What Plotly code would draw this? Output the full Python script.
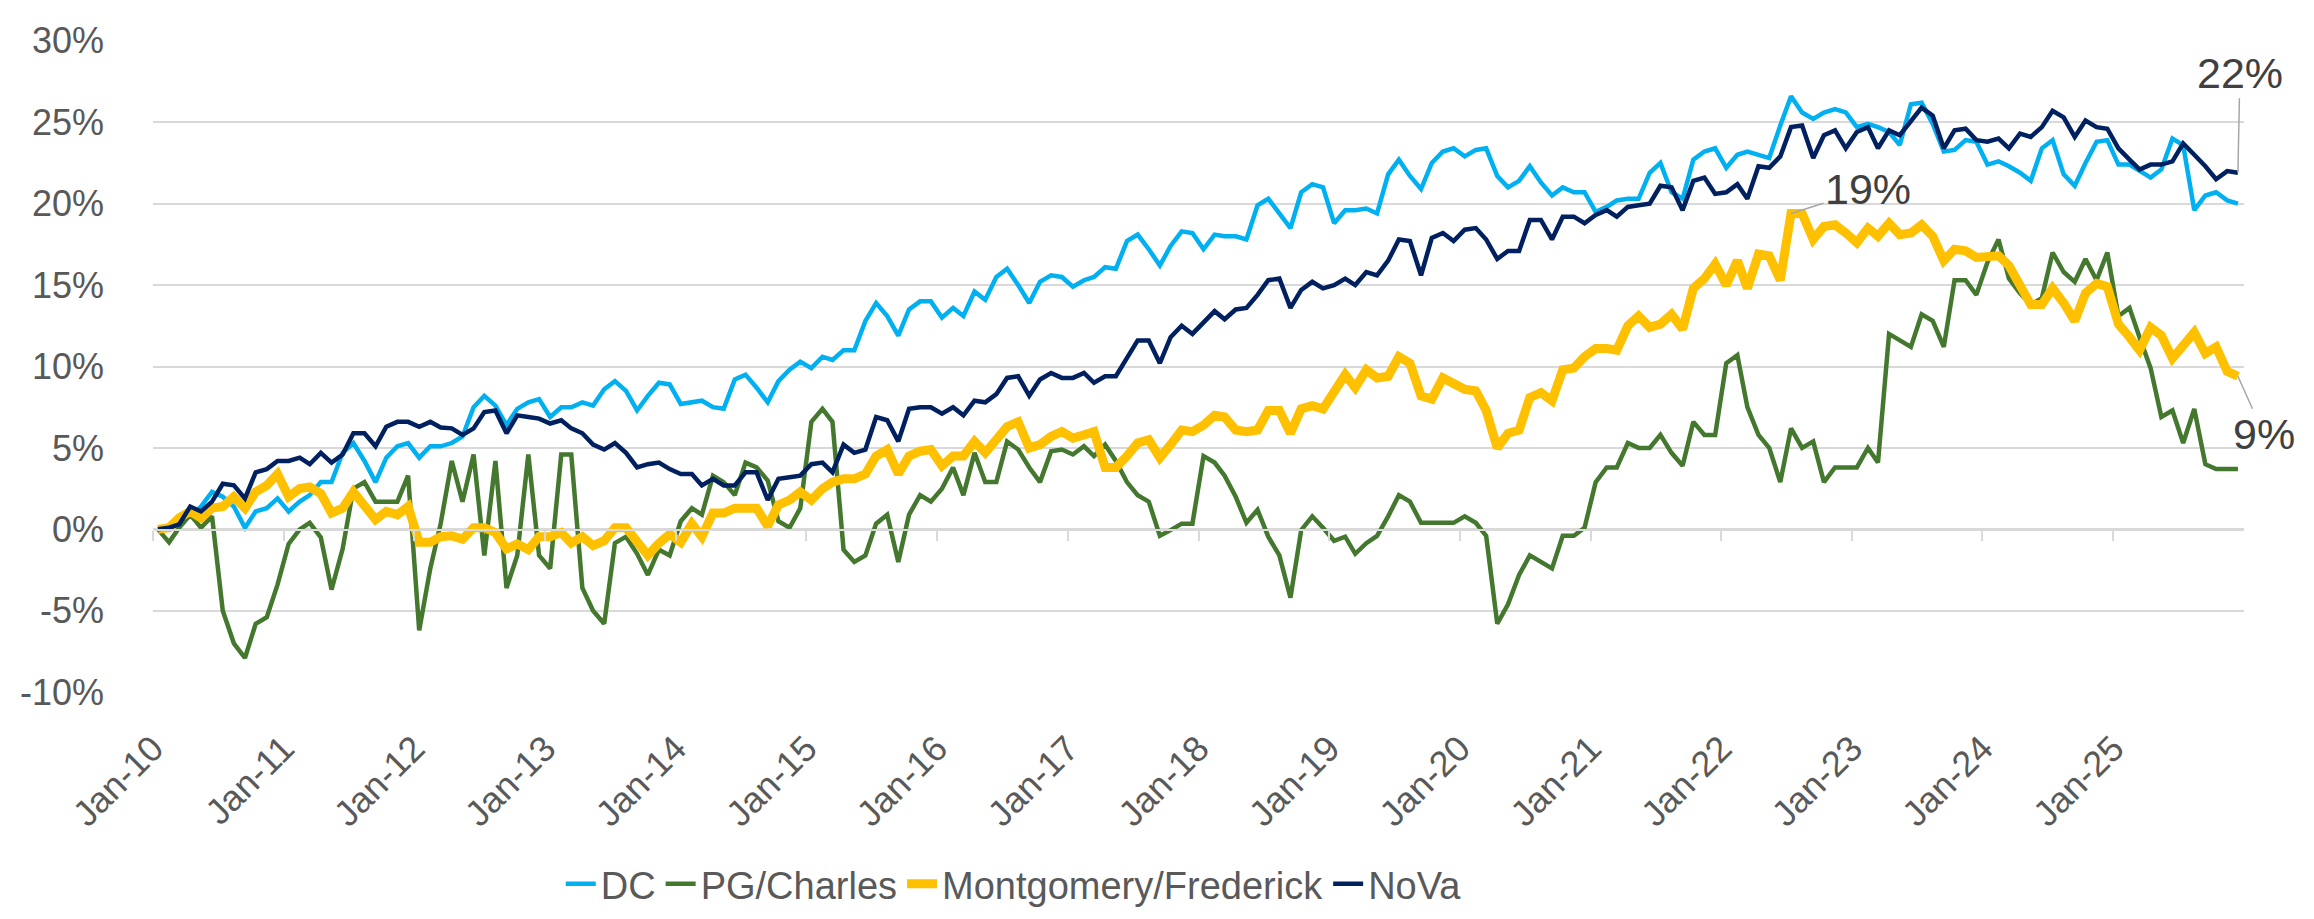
import plotly.graph_objects as go

# ---------------- data (monthly, Jan-2010 .. Dec-2025, % change) ----------------
years = list(range(2010, 2026))
x_tick_labels = [f"Jan-{str(y)[2:]}" for y in years]
y_tick_values = [-10, -5, 0, 5, 10, 15, 20, 25, 30]
y_tick_labels = ["-10%", "-5%", "0%", "5%", "10%", "15%", "20%", "25%", "30%"]

dc = [
    0, 0.1, 0.5, 0.8, 1.4, 2.3, 2.0, 1.4, 0.1, 1.1, 1.3, 1.9, 1.1, 1.7, 2.1, 2.9, 2.9, 4.7, 5.3, 4.2, 2.9, 4.4, 5.1, 5.3, 4.4, 5.1,
    5.1, 5.3, 5.7, 7.5, 8.2, 7.6, 6.4, 7.4, 7.8, 8.0, 6.9, 7.5, 7.5, 7.8, 7.6, 8.6, 9.1, 8.5, 7.3, 8.2, 9.0, 8.9, 7.7, 7.8, 7.9, 7.5, 7.4,
    9.2, 9.5, 8.7, 7.8, 9.1, 9.8, 10.3, 9.9, 10.6, 10.4, 11.0, 11.0, 12.8, 13.9, 13.1, 11.9, 13.5, 14.0, 14.0, 13.0, 13.6, 13.1, 14.6, 14.1, 15.5, 16.0, 15.0,
    13.9, 15.2, 15.6, 15.5, 14.9, 15.3, 15.5, 16.1, 16.0, 17.7, 18.1, 17.2, 16.2, 17.4, 18.3, 18.2, 17.2, 18.1, 18.0, 18.0, 17.8, 19.9, 20.3, 19.4, 18.5, 20.7, 21.2,
    21.0, 18.8, 19.6, 19.6, 19.7, 19.4, 21.8, 22.7, 21.7, 20.9, 22.5, 23.2, 23.4, 22.9, 23.3, 23.4, 21.7, 21.0, 21.4, 22.3, 21.3, 20.5, 21.0, 20.7, 20.7, 19.5,
    19.8, 20.2, 20.3, 20.3, 21.9, 22.5, 20.7, 20.3, 22.7, 23.2, 23.4, 22.2, 23.0, 23.2, 23.0, 22.8, 24.8, 26.6, 25.6, 25.2, 25.6, 25.8, 25.6, 24.7, 24.9, 24.7, 24.4,
    23.6, 26.1, 26.2, 24.9, 23.2, 23.3, 23.9, 23.8, 22.4, 22.6, 22.3, 21.9, 21.4, 23.4, 23.9, 21.8,
    21.1, 22.5, 23.8, 23.9, 22.4, 22.4, 22.0, 21.6, 22.1, 24.0, 23.6, 19.6, 20.5, 20.7, 20.2, 20.0,
]

pg_charles = [
    0, -0.8, 0.1, 0.9, 0.1, 0.8, -5.0, -7.0, -7.9, -5.8, -5.4, -3.4, -0.9, 0.0, 0.4, -0.5, -3.7, -1.2, 2.5, 2.9, 1.7, 1.7, 1.7, 3.3, -6.2, -2.4,
    0.35, 4.2, 1.7, 4.6, -1.6, 4.2, -3.6, -1.6, 4.6, -1.6, -2.4, 4.6, 4.6, -3.6, -5.0, -5.8, -0.85, -0.45, -1.5, -2.8, -1.25, -1.6, 0.5, 1.3, 0.9, 3.3, 2.9,
    2.1, 4.1, 3.8, 3.0, 0.5, 0.1, 1.3, 6.6, 7.4, 6.6, -1.25, -2.0, -1.6, 0.35, 0.9, -2.0, 0.9, 2.1, 1.7, 2.5, 3.8, 2.1, 4.7, 2.9, 2.9, 5.4, 4.9,
    3.8, 2.9, 4.8, 4.9, 4.6, 5.1, 4.5, 5.2, 4.2, 2.9, 2.1, 1.7, -0.4, -0.05, 0.35, 0.35, 4.5, 4.1, 3.3, 2.0, 0.4, 1.2, -0.45, -1.6, -4.2, -0.05, 0.8,
    0.1, -0.7, -0.45, -1.5, -0.85, -0.4, 0.8, 2.1, 1.7, 0.4, 0.4, 0.4, 0.4, 0.8, 0.4, -0.4, -5.8, -4.6, -2.8, -1.6, -2.0, -2.4, -0.4, -0.4, 0.1, 2.9,
    3.8, 3.8, 5.3, 5.0, 5.0, 5.8, 4.7, 3.9, 6.6, 5.8, 5.8, 10.2, 10.7, 7.5, 5.8, 5.0, 2.9, 6.2, 5.0, 5.4, 2.9, 3.8, 3.8, 3.8, 5.0, 4.1, 12.0,
    11.6, 11.2, 13.2, 12.8, 11.2, 15.3, 15.3, 14.4, 16.4, 17.8, 15.4, 14.5, 13.8, 14.2, 17.0, 15.8,
    15.2, 16.6, 15.3, 17.0, 13.1, 13.6, 11.8, 9.9, 6.9, 7.3, 5.3, 7.4, 4.0, 3.7, 3.7, 3.7,
]

montgomery = [
    0, 0.1, 0.7, 1.1, 0.7, 1.3, 1.4, 2.0, 1.3, 2.3, 2.7, 3.4, 2.0, 2.5, 2.6, 2.2, 1.0, 1.3, 2.3, 1.5, 0.6, 1.1, 0.9, 1.4, -0.8, -0.8,
    -0.45, -0.4, -0.6, 0.1, 0.1, -0.2, -1.2, -0.9, -1.25, -0.45, -0.45, -0.2, -0.85, -0.45, -1.0, -0.7, 0.1, 0.1, -0.85, -1.6, -0.85, -0.3, -0.8, 0.35, -0.45, 1.0, 1.0,
    1.3, 1.3, 1.3, 0.2, 1.5, 1.8, 2.3, 1.8, 2.5, 2.9, 3.1, 3.1, 3.4, 4.5, 4.9, 3.4, 4.5, 4.8, 4.9, 3.9, 4.5, 4.5, 5.4, 4.7, 5.5, 6.3, 6.6,
    5.0, 5.2, 5.7, 6.0, 5.6, 5.8, 6.0, 3.8, 3.8, 4.5, 5.3, 5.5, 4.4, 5.2, 6.1, 6.0, 6.4, 7.0, 6.9, 6.1, 6.0, 6.1, 7.3, 7.3, 5.9, 7.4, 7.6,
    7.4, 8.5, 9.5, 8.7, 9.8, 9.3, 9.4, 10.6, 10.2, 8.2, 8.0, 9.3, 9.0, 8.6, 8.5, 7.3, 5.0, 5.9, 6.1, 8.1, 8.4, 7.9, 9.8, 9.9, 10.6, 11.1,
    11.1, 11.0, 12.5, 13.1, 12.4, 12.6, 13.2, 12.3, 14.8, 15.4, 16.3, 15.0, 16.5, 14.8, 16.9, 16.8, 15.3, 19.4, 19.4, 17.8, 18.6, 18.7, 18.2, 17.6, 18.5, 18.0, 18.8,
    18.1, 18.2, 18.7, 18.0, 16.5, 17.2, 17.1, 16.7, 16.8, 16.8, 16.2, 15.0, 13.8, 13.8, 14.8, 13.9,
    12.8, 14.5, 15.1, 14.9, 12.6, 11.8, 11.0, 12.4, 11.9, 10.5, 11.2, 12.1, 10.8, 11.2, 9.7, 9.4,
]

nova = [
    0, 0.1, 0.3, 1.4, 1.1, 1.7, 2.8, 2.7, 1.9, 3.5, 3.7, 4.2, 4.2, 4.4, 4.0, 4.7, 4.1, 4.6, 5.9, 5.9, 5.1, 6.3, 6.6, 6.6, 6.3, 6.6,
    6.25, 6.2, 5.8, 6.2, 7.2, 7.3, 5.9, 7.0, 6.9, 6.8, 6.5, 6.7, 6.2, 5.9, 5.2, 4.9, 5.3, 4.7, 3.8, 4.0, 4.1, 3.7, 3.4, 3.4, 2.7, 3.1, 2.7,
    2.7, 3.5, 3.5, 1.8, 3.1, 3.2, 3.3, 4.0, 4.1, 3.5, 5.2, 4.7, 4.9, 6.9, 6.7, 5.4, 7.4, 7.5, 7.5, 7.1, 7.5, 7.0, 7.9, 7.8, 8.3, 9.3, 9.4,
    8.2, 9.2, 9.6, 9.3, 9.3, 9.6, 9.0, 9.4, 9.4, 10.5, 11.6, 11.6, 10.2, 11.8, 12.5, 12.0, 12.7, 13.4, 12.9, 13.5, 13.6, 14.4, 15.3, 15.4, 13.6, 14.7, 15.2,
    14.8, 15.0, 15.4, 15.0, 15.8, 15.6, 16.5, 17.8, 17.7, 15.6, 17.9, 18.2, 17.7, 18.4, 18.5, 17.8, 16.6, 17.1, 17.1, 19.0, 19.0, 17.8, 19.2, 19.2, 18.8, 19.3,
    19.6, 19.2, 19.8, 19.9, 20.0, 21.1, 21.0, 19.6, 21.4, 21.6, 20.6, 20.7, 21.2, 20.3, 22.3, 22.2, 22.9, 24.7, 24.8, 22.8, 24.2, 24.5, 23.4, 24.4, 24.7, 23.4, 24.5,
    24.2, 25.1, 25.9, 25.4, 23.4, 24.5, 24.6, 23.9, 23.8, 24.0, 23.4, 24.3, 24.1, 24.7, 25.7, 25.3,
    24.1, 25.1, 24.7, 24.6, 23.4, 22.7, 22.1, 22.4, 22.4, 22.6, 23.7, 23.0, 22.3, 21.5, 22.0, 21.9,
]

n_months = 192
dates = [f"{2010 + i // 12}-{i % 12 + 1:02d}-15" for i in range(n_months)]
for name, s in [("dc", dc), ("pg", pg_charles), ("mont", montgomery), ("nova", nova)]:
    assert len(s) == n_months, (name, len(s))

# ---------------- styling ----------------
FONT = "Liberation Sans"
TICK_COLOR = "#595959"
GRID = "#D9D9D9"

series = [
    ("DC", dc, "#00B0F0", 4.5),
    ("PG/Charles", pg_charles, "#43782E", 4.5),
    ("Montgomery/Frederick", montgomery, "#FFC000", 9),
    ("NoVa", nova, "#002060", 4.5),
]

fig = go.Figure()
for name, vals, color, width in series:
    fig.add_trace(go.Scatter(
        x=dates, y=vals, mode="lines", name=name,
        line=dict(color=color, width=width),
    ))

# invisible trace carrying the category axis drawn through 0%
fig.add_trace(go.Scatter(x=[], y=[], xaxis="x2", showlegend=False, hoverinfo="skip"))

tickvals_x = [f"{y}-01-01" for y in years]
x_range = ["2010-01-01", "2026-01-01"]

fig.update_layout(
    width=2314, height=919,
    paper_bgcolor="white", plot_bgcolor="white",
    margin=dict(l=145, r=78, t=27, b=222),
    font=dict(family=FONT, color=TICK_COLOR),
    xaxis=dict(
        type="date", range=x_range, tickvals=tickvals_x, ticktext=x_tick_labels,
        tickangle=-45, showgrid=False, zeroline=False, showline=False, ticks="",
        tickfont=dict(family=FONT, size=36, color=TICK_COLOR),
        ticklabelstandoff=26,
    ),
    xaxis2=dict(
        type="date", range=x_range, overlaying="x", anchor="free", position=0.25,
        side="bottom", tickvals=tickvals_x, showticklabels=False, ticks="outside",
        ticklen=10, tickwidth=2, tickcolor=GRID, showline=True, linecolor=GRID,
        linewidth=2, showgrid=False, zeroline=False,
    ),
    yaxis=dict(
        range=[-10.05, 30.05], tickvals=y_tick_values, ticktext=y_tick_labels,
        showgrid=True, gridcolor=GRID, gridwidth=2, zeroline=False, showline=False,
        ticks="", tickfont=dict(family=FONT, size=36, color=TICK_COLOR),
        ticklabelstandoff=48,
    ),
    legend=dict(
        orientation="h", x=0.195, xanchor="left", y=-0.2925, yanchor="middle",
        font=dict(family=FONT, size=38, color=TICK_COLOR), itemwidth=30,
        bgcolor="rgba(0,0,0,0)",
    ),
    showlegend=True,
)

# data labels with leader lines
peak_idx = max(range(n_months), key=lambda i: montgomery[i])
labels = [
    (dates[-1], nova[-1], 2, -100),
    (dates[peak_idx], montgomery[peak_idx], 77, -24),
    (dates[-1], montgomery[-1], 26, 58),
]
for xv, yv, ax, ay in labels:
    fig.add_annotation(
        x=xv, y=yv, text=f"{round(yv)}%", showarrow=True, arrowhead=0,
        arrowwidth=1.5, arrowcolor="#A6A6A6", ax=ax, ay=ay,
        font=dict(family=FONT, size=43, color="#404040"),
    )

fig.write_html("out.html")
